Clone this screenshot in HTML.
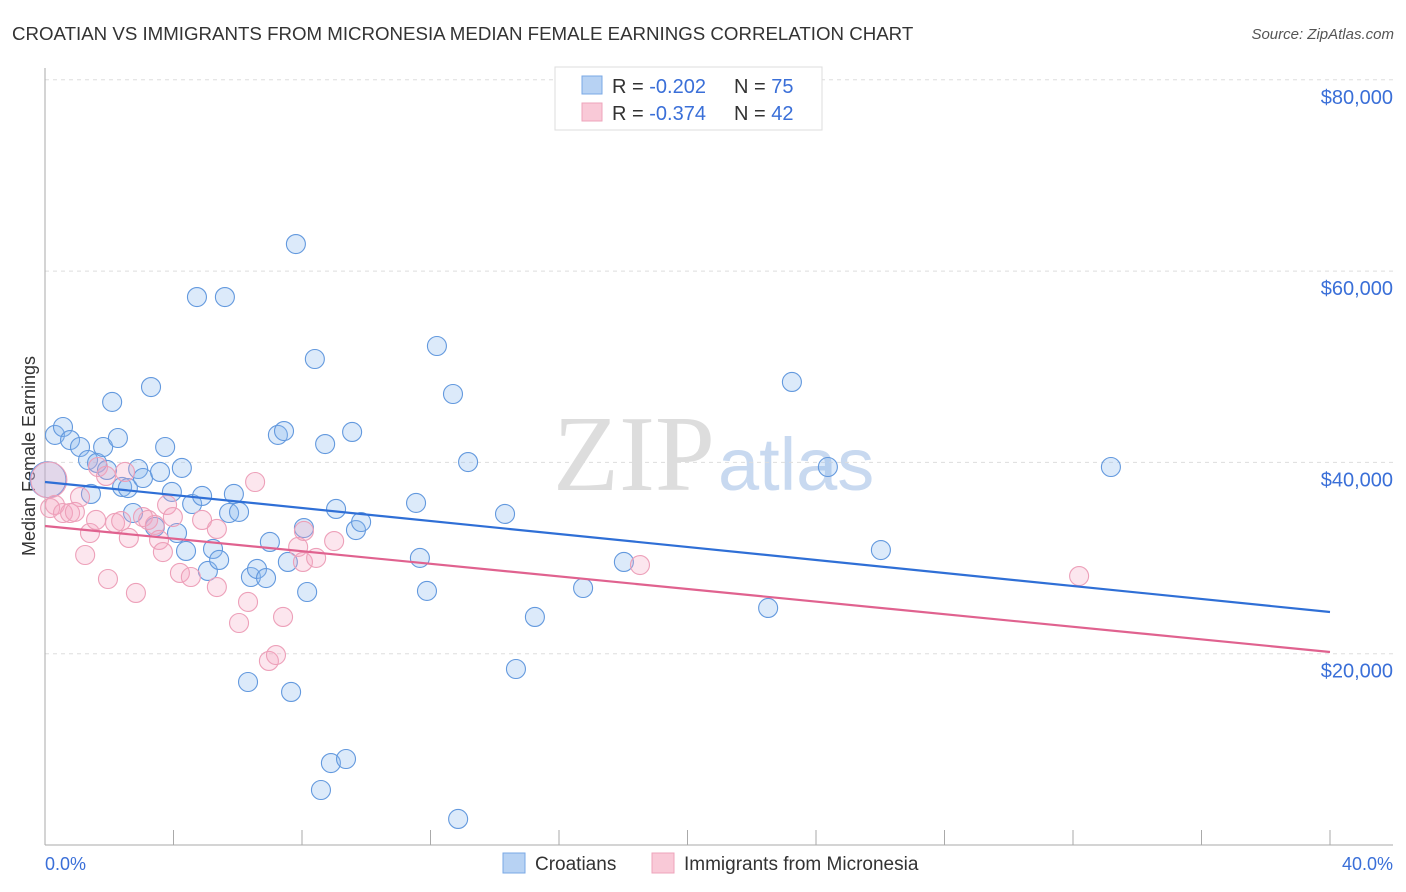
<!DOCTYPE html>
<html><head><meta charset="utf-8"><style>
body{margin:0;background:#fff;font-family:"Liberation Sans",sans-serif;}
svg{display:block}
</style></head><body>
<svg width="1406" height="892" id="chart">
<text x="12" y="40" font-size="18.7" fill="#333">CROATIAN VS IMMIGRANTS FROM MICRONESIA MEDIAN FEMALE EARNINGS CORRELATION CHART</text>
<text x="1394" y="39" font-size="15" fill="#555" font-style="italic" text-anchor="end">Source: ZipAtlas.com</text>
<text x="35" y="456" font-size="18" fill="#333" text-anchor="middle" transform="rotate(-90 35 456)">Median Female Earnings</text>
<g><text x="553" y="490" font-size="108" fill="#ddd" font-family="Liberation Serif,serif">ZIP</text><text x="718" y="490" font-size="74" fill="#c8d9f0">atlas</text></g>
<g id="grid"></g><g id="axes"></g><g id="marks"></g>
<g>
<rect x="555" y="67" width="267" height="63" fill="#fff" stroke="#ddd"/>
<rect x="582" y="76" width="20" height="18" fill="#b7d2f3" stroke="#7aa8e6"/>
<rect x="582" y="103" width="20" height="18" fill="#f9c9d7" stroke="#eea4bb"/>
<text x="612" y="93" font-size="20" fill="#333">R = <tspan fill="#3a6fd8">-0.202</tspan><tspan x="734">N = </tspan><tspan fill="#3a6fd8">75</tspan></text>
<text x="612" y="120" font-size="20" fill="#333">R = <tspan fill="#3a6fd8">-0.374</tspan><tspan x="734">N = </tspan><tspan fill="#3a6fd8">42</tspan></text>
</g>
<g>
<rect x="503" y="853" width="22" height="20" fill="#b7d2f3" stroke="#7aa8e6"/>
<text x="535" y="870" font-size="19" fill="#333">Croatians</text>
<rect x="652" y="853" width="22" height="20" fill="#f9c9d7" stroke="#eea4bb"/>
<text x="684" y="870" font-size="19" fill="#333">Immigrants from Micronesia</text>
</g>
<text x="45" y="870" font-size="18" fill="#3a6fd8">0.0%</text>
<text x="1393" y="870" font-size="18" fill="#3a6fd8" text-anchor="end">40.0%</text>
</svg>
<script>
const yTicks=[20000,40000,60000,80000];
const yTickLabels=["$20,000","$40,000","$60,000","$80,000"];
const xTicks=[0,4,8,12,16,20,24,28,32,36,40];
const croX=[0.09,0.31,0.56,0.78,1.09,1.34,1.43,1.62,1.81,1.93,2.09,2.27,2.40,2.58,2.74,2.90,3.05,3.30,3.42,3.58,3.74,3.95,4.11,4.26,4.39,4.58,4.73,4.89,5.07,5.23,5.42,5.60,5.73,5.88,6.04,6.32,6.41,6.60,6.88,7.00,7.25,7.44,7.56,7.66,7.81,8.16,8.06,8.40,8.72,8.90,9.06,9.37,9.56,9.68,9.84,11.55,11.67,11.89,12.20,12.70,12.86,13.17,14.32,14.66,15.25,16.75,18.02,22.51,23.25,24.37,26.02,33.18,8.59];
const croY=[38200,42870,43700,42340,41610,40250,36700,39940,41610,39210,46320,42550,37430,37320,34710,39310,38370,47880,33250,39000,41610,36910,32620,39420,30740,35650,57290,36490,28650,30950,29800,57290,34710,36700,34820,17040,28020,28860,27910,31680,42870,43280,29590,16000,62830,26450,33140,50810,41920,8570,35130,8990,43180,32930,33770,35760,30010,26560,52170,47150,2720,40040,34610,18400,23840,26870,29590,24780,48410,39520,30840,39520,5750];
const micX=[0.12,0.31,0.16,0.56,0.78,1.09,0.93,1.25,1.40,1.59,1.65,1.90,1.96,2.18,2.37,2.49,2.61,2.83,3.05,3.21,3.42,3.55,3.67,3.80,3.98,4.20,4.54,4.89,5.35,5.35,6.04,6.32,6.54,6.97,7.19,7.41,7.88,8.03,8.44,9.00,8.06,18.52,32.19];
const micY=[38160,35550,35230,34710,34710,36380,34820,30320,32620,33980,39520,38580,27810,33670,33870,39000,32100,26350,34290,33980,33460,31890,30630,35550,34290,28440,28020,33980,33040,26970,23210,25410,37950,19240,19860,23840,31160,29590,30010,31780,32830,29270,28120];
const croTrend=[37950,24360];
const micTrend=[33350,20180];
const X0=45,X1=1330,Y0=845,YPX=191.3/20000;
const sx=v=>X0+(v/40)*(X1-X0);
const sy=v=>Y0-v*YPX;
const NS="http://www.w3.org/2000/svg";
function mk(t,p,a){const e=document.createElementNS(NS,t);for(const k in a)e.setAttribute(k,a[k]);p.appendChild(e);return e;}
const grid=document.getElementById('grid'),axes=document.getElementById('axes'),marks=document.getElementById('marks');
yTicks.forEach((v,i)=>{
 const l=mk('line',grid,{x1:45,x2:1393,y1:sy(v),y2:sy(v),stroke:'#ddd','stroke-dasharray':'4,4'});
 
 
 const t=mk('text',grid,{x:1393,y:sy(v)+24,'font-size':20,fill:'#3a6fd8','text-anchor':'end'});
 t.textContent=yTickLabels[i];
 
 
});
const ya=mk('line',axes,{x1:45,x2:45,y1:68,y2:845,stroke:'#aaa'});


const xa=mk('line',axes,{x1:45,x2:1393,y1:845,y2:845,stroke:'#aaa'});


xTicks.forEach(v=>{
 const t=mk('line',axes,{x1:sx(v),x2:sx(v),y1:830,y2:845,stroke:'#aaa'});
 
 
});
function pts(xs,ys,fill,stroke,name){
 xs.forEach((x,i)=>{
  const c=mk('circle',marks,{cx:sx(x),cy:sy(ys[i]),r:(i===0?18:9.5),fill:fill,stroke:stroke,'stroke-width':1.1});
  
  
 });
}
pts(croX,croY,'rgba(140,185,240,0.3)','#6399de','croatians-point');
pts(micX,micY,'rgba(245,165,195,0.28)','#eda0b9','micronesia-point');
const t1=mk('line',marks,{x1:sx(0),x2:sx(40),y1:sy(croTrend[0]),y2:sy(croTrend[1]),stroke:'#2f6fd6','stroke-width':2.2});


const t2=mk('line',marks,{x1:sx(0),x2:sx(40),y1:sy(micTrend[0]),y2:sy(micTrend[1]),stroke:'#e0628f','stroke-width':2.2});


</script>
</body></html>
